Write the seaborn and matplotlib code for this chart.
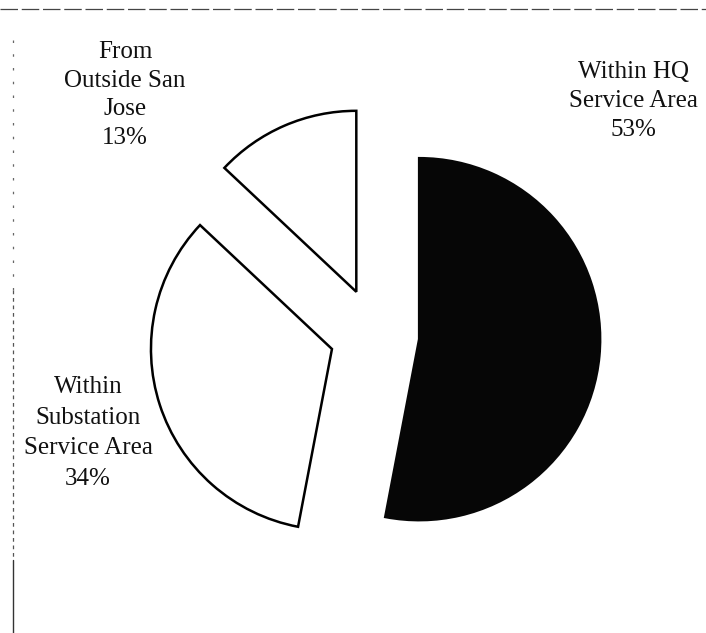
import matplotlib
matplotlib.use("Agg")
import matplotlib.pyplot as plt
import seaborn as sns

# Where customers come from, by service area
categories = ["From\nOutside San\nJose", "Within\nSubstation\nService Area", "Within HQ\nService Area"]
shares = [13, 34, 53]
slice_colors = ["white", "white", "#060606"]

sns.set_theme(style="white")
plt.rcParams["font.family"] = ["Liberation Serif", "DejaVu Serif"]

W, H, DPI = 706, 633, 100
fig = plt.figure(figsize=(W / DPI, H / DPI), dpi=DPI)
fig.patch.set_facecolor("white")
ax = fig.add_axes([0, 0, 1, 1])

# pie geometry in pixels
R = 181.0
cx, cy = 375.0, 335.0

wedges, _ = ax.pie(
    shares,
    colors=slice_colors,
    startangle=90,
    counterclock=True,
    explode=[0.26, 0.25, 0.245],
    radius=1.0,
    wedgeprops=dict(edgecolor="black", linewidth=1.8),
)
wedges[2].set_edgecolor("#060606")

ax.set_xlim(-cx / R, (W - cx) / R)
ax.set_ylim(-(H - cy) / R, cy / R)
ax.set_aspect("auto")
ax.axis("off")

# Category labels with their percentages
label_pos = [(125, 95), (88, 433), (633, 101)]
label_spacing = [1.38, 1.5, 1.42]
for name, share, (px, py), ls in zip(categories, shares, label_pos, label_spacing):
    fig.text(px / W, 1 - py / H, f"{name}\n{share}%", ha="center", va="center",
             fontsize=18, color="#111111", linespacing=ls)


# page frame: top rule and a left rule that grows heavier toward the bottom
def fig_line(x0, y0, x1, y1, **kw):
    fig.add_artist(plt.Line2D([x0 / W, x1 / W], [1 - y0 / H, 1 - y1 / H],
                              transform=fig.transFigure, **kw))


fig_line(0, 9, W, 9, color="#444444", linewidth=0.9, linestyle=(0, (14, 3)))
fig_line(13, 40, 13, 290, color="#666666", linewidth=0.9, linestyle=(0, (2, 9)))
fig_line(13, 290, 13, 560, color="#555555", linewidth=0.9, linestyle=(0, (3, 3)))
fig_line(13, 560, 13, H, color="#333333", linewidth=1.0)

fig.savefig("out.png", dpi=DPI, facecolor="white")
